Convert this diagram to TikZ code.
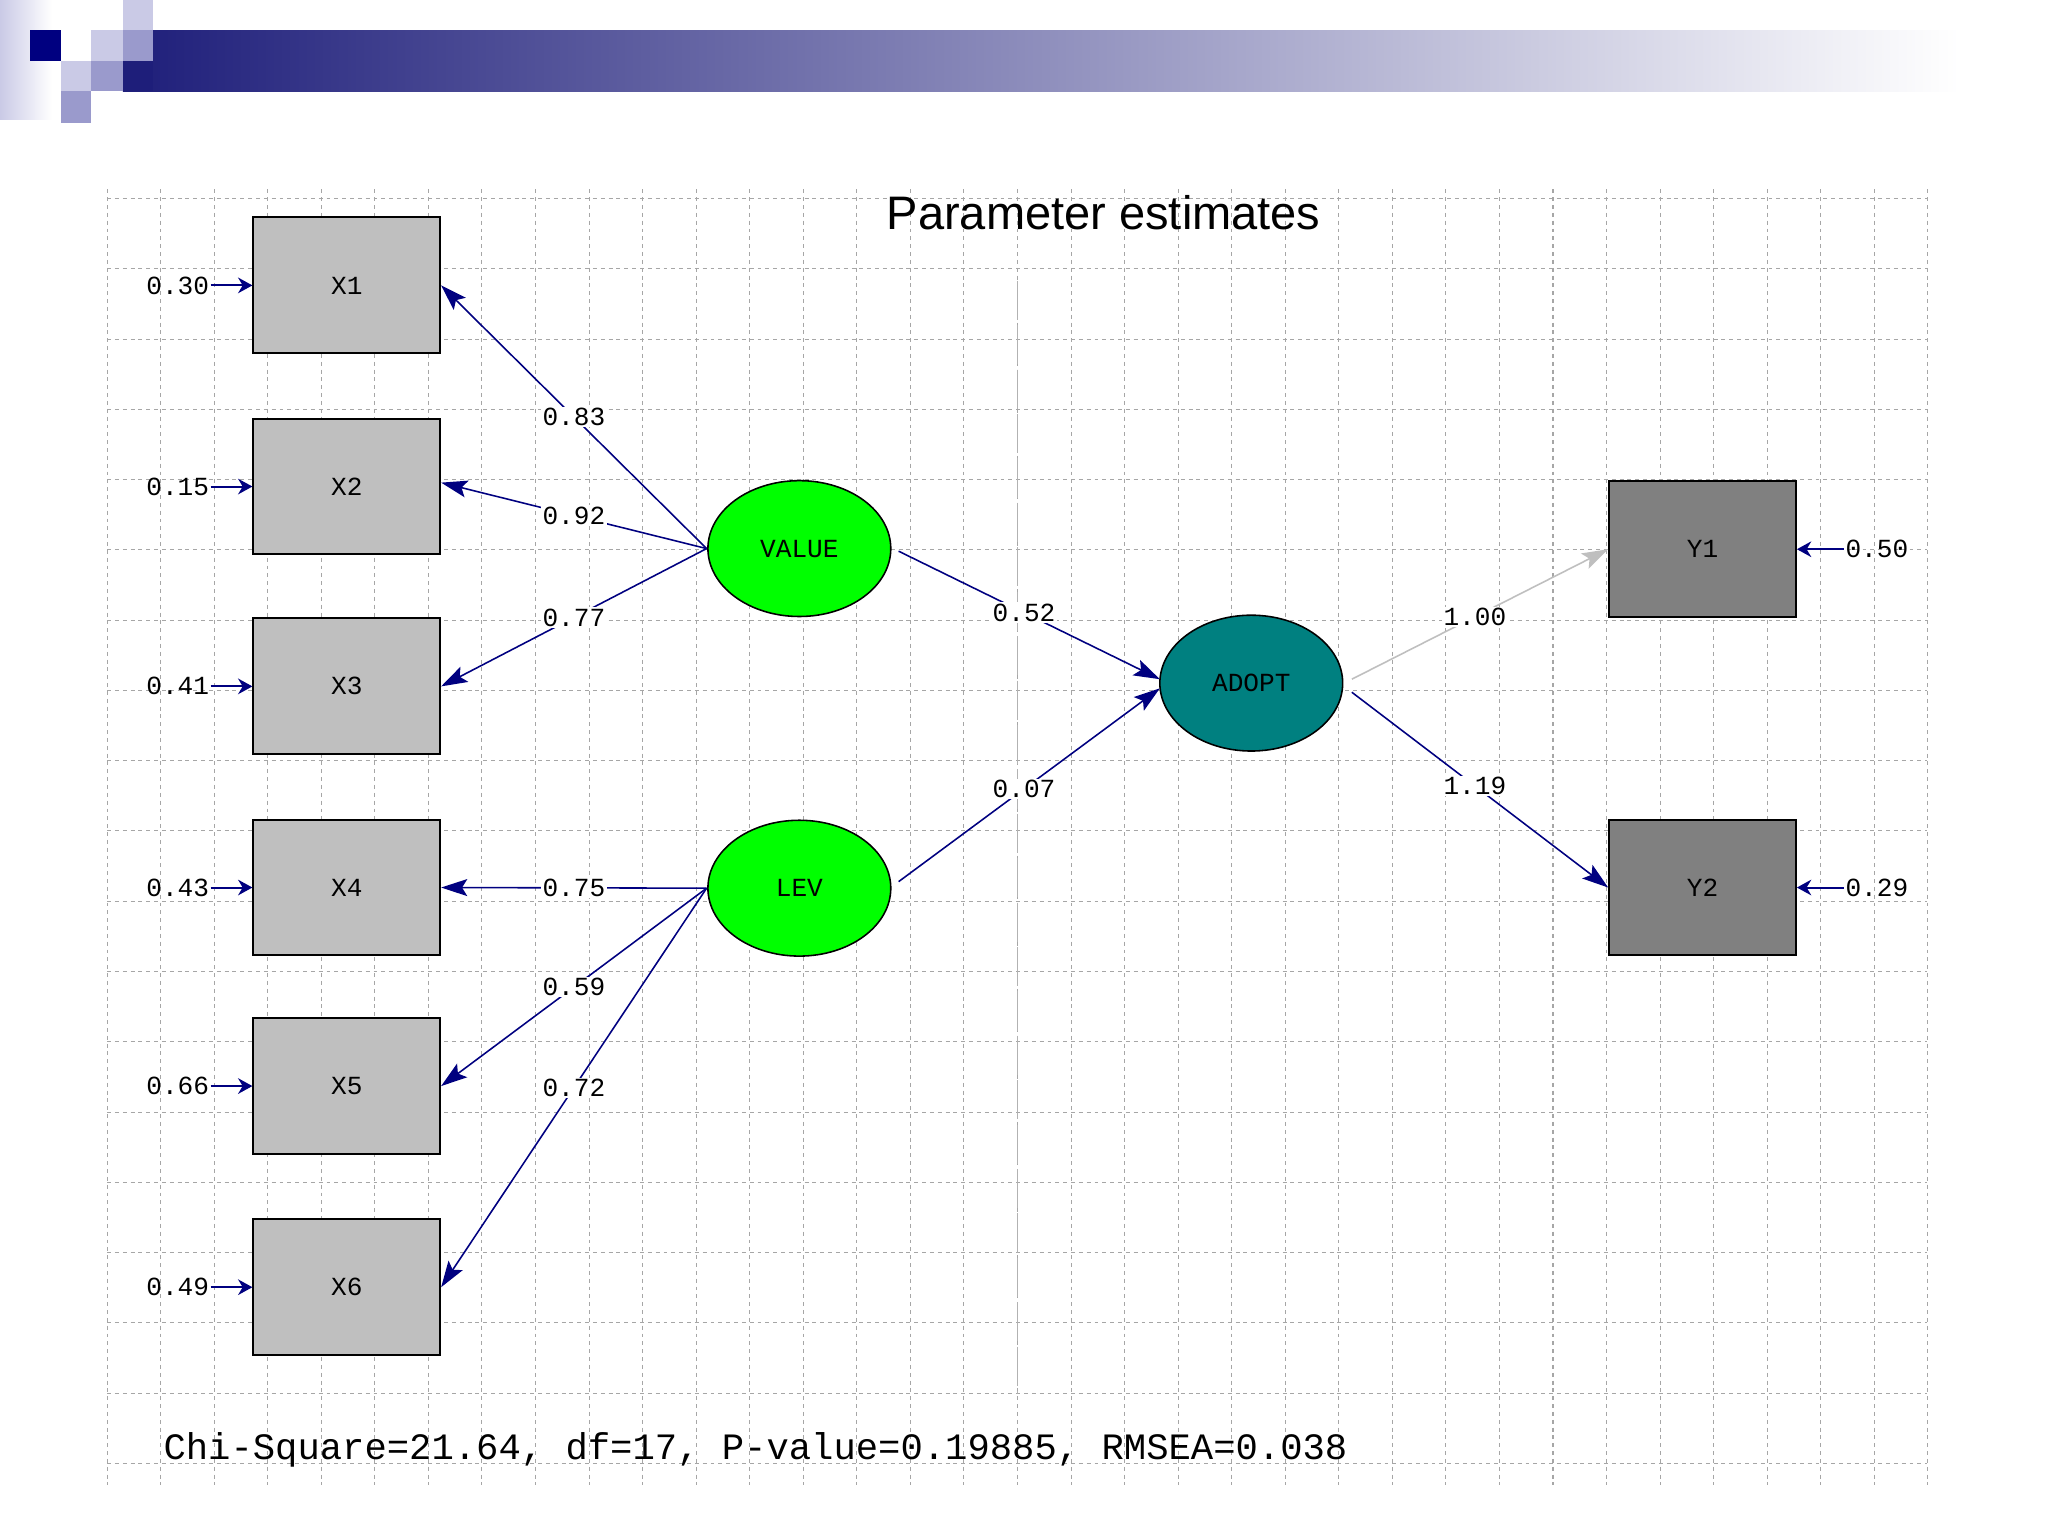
\documentclass[tikz,border=0pt]{standalone}
\usepackage{fontspec}
\setmainfont{Liberation Sans}
\newfontfamily\mono{Liberation Mono}
\usetikzlibrary{arrows.meta,shapes.geometric}
\definecolor{navy}{HTML}{000080}
\definecolor{barn}{HTML}{1E1E7A}
\definecolor{lav}{HTML}{CACAE6}
\definecolor{med}{HTML}{9A9ACC}
\definecolor{teal}{HTML}{008080}
\tikzset{
 obs/.style={draw,line width=1.5pt,fill=black!25,minimum width=143pt,minimum height=104pt,inner sep=0,font=\mono\fontsize{20}{20}\selectfont},
 obsy/.style={obs,fill=black!50},
 lat/.style={ellipse,draw,line width=1.2pt,minimum width=140pt,minimum height=104pt,inner sep=0,font=\mono\fontsize{20}{20}\selectfont},
 lab/.style={fill=white,text=black,inner sep=1pt,font=\mono\fontsize{20}{20}\selectfont},
 err/.style={font=\mono\fontsize{20}{20}\selectfont,inner sep=1pt},
 ln/.style={draw=navy,line width=1.2pt,arrows={-Stealth[length=20pt,width=13pt,inset=4pt]}},
 eln/.style={draw=navy,line width=1.5pt,arrows={-Stealth[length=11pt,width=12pt]}},
 grid/.style={black!35,dashed,line width=0.8pt}
}
\begin{document}
\begin{tikzpicture}[x=1pt,y=-1pt]
\useasboundingbox (0,0) rectangle (1568,1176);
\fill[white] (0,0) rectangle (1568,1176);
% header
\shade[left color=lav,right color=white] (0,0) rectangle (40,92);
\shade[left color=barn,right color=white] (94,23) rectangle (1500,70);
\fill[white] (0,92) rectangle (40,110);
\fill[navy] (23,23) rectangle (47,47);
\fill[lav] (70,23) rectangle (94,47);
\fill[med] (94,23) rectangle (117,47);
\fill[lav] (94,0) rectangle (117,23);
\fill[lav] (47,47) rectangle (70,70);
\fill[med] (70,47) rectangle (94,70);
\fill[med] (47,70) rectangle (70,94);
\fill[barn] (94,47) rectangle (117,70);
% grid
\foreach \i in {0,...,34} \draw[grid] ({82+41*\i},145) -- ({82+41*\i},1137);
\foreach \j in {0,...,18} \draw[grid] (82,{152+53.8*\j}) -- (1475,{152+53.8*\j});
\draw[black!30,dash pattern=on 30pt off 4pt,line width=1.5pt] (779,215) -- (779,1067);
\node (title) at (845,163) {\fontsize{36}{36}\selectfont Parameter estimates};
% nodes
\node[obs] (x1) at (265.5,218.5) {X1};
\node[obs] (x2) at (265.5,372.5) {X2};
\node[obs] (x3) at (265.5,525.5) {X3};
\node[obs] (x4) at (265.5,679.5) {X4};
\node[obs] (x5) at (265.5,831.5) {X5};
\node[obs] (x6) at (265.5,985.5) {X6};
\node[obsy] (y1) at (1303.5,420.5) {Y1};
\node[obsy] (y2) at (1303.5,679.5) {Y2};
\node[lat,fill=green] (value) at (612,420) {VALUE};
\node[lat,fill=green] (lev) at (612,680) {LEV};
\node[lat,fill=teal] (adopt) at (958,523) {ADOPT};
% errors
\foreach \n/\v in {x1/0.30,x2/0.15,x3/0.41,x4/0.43,x5/0.66,x6/0.49}{
 \node[err,anchor=east] (e\n) at ([xshift=-32pt]\n.west) {\v};
 \draw[eln] (e\n) -- (\n);}
\foreach \n/\v in {y1/0.50,y2/0.29}{
 \node[err,anchor=west] (e\n) at ([xshift=36pt]\n.east) {\v};
 \draw[eln] (e\n) -- (\n);}
% loadings
\coordinate (vl) at (541,420); \coordinate (ll) at (541,680);
\draw[ln] (vl) -- node[lab,pos=0.5]{0.83} (x1.east);
\draw[ln] (vl) -- node[lab,pos=0.5]{0.92} ([yshift=3pt]x2.east);
\draw[ln] (vl) -- node[lab,pos=0.5]{0.77} (x3.east);
\draw[ln] (ll) -- node[lab,pos=0.5]{0.75} (x4.east);
\draw[ln] (ll) -- node[lab,pos=0.5]{0.59} (x5.east);
\draw[ln] (ll) -- node[lab,pos=0.5]{0.72} (x6.east);
\draw[ln] (688,422) -- node[lab,pos=0.48]{0.52} (888,520);
\draw[ln] (688,675) -- node[lab,pos=0.48]{0.07} (888,527);
\draw[ln,draw=black!25] (1035,520) -- node[lab,pos=0.48]{1.00} (y1.west);
\draw[ln] (1035,530) -- node[lab,pos=0.48]{1.19} (y2.west);
\node[anchor=west,inner sep=0,font=\mono\fontsize{28.5}{28.5}\selectfont] (fit) at (125,1110) {Chi-Square=21.64, df=17, P-value=0.19885, RMSEA=0.038};
\end{tikzpicture}
\end{document}
